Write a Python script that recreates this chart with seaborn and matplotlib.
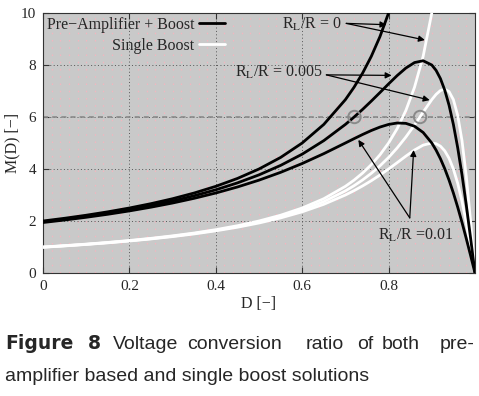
import numpy as np
import pandas as pd
import seaborn as sns
import matplotlib.pyplot as plt
from matplotlib.ticker import MultipleLocator

# Duty cycle samples and conversion ratio values
D = [0, 0.05, 0.1, 0.15, 0.2, 0.25, 0.3, 0.35, 0.4, 0.45, 0.5, 0.55, 0.6, 0.65,
     0.7, 0.72, 0.74, 0.76, 0.78, 0.8, 0.82, 0.84, 0.86, 0.88, 0.9, 0.91, 0.92,
     0.93, 0.94, 0.95, 0.96, 0.97, 0.98, 0.99, 1.0]

# ideal curves (R_L/R = 0), cut just above the top of the axes
pre_ideal = [2.000, 2.105, 2.222, 2.353, 2.500, 2.667, 2.857, 3.077, 3.333, 3.636,
             4.000, 4.444, 5.000, 5.714, 6.667, 7.143, 7.692, 8.333, 9.091, 10.000,
             11.111]
single_ideal = [1.000, 1.053, 1.111, 1.176, 1.250, 1.333, 1.429, 1.538, 1.667, 1.818,
                2.000, 2.222, 2.500, 2.857, 3.333, 3.571, 3.846, 4.167, 4.545, 5.000,
                5.556, 6.250, 7.143, 8.333, 10.000, 11.111]

# R_L/R = 0.005
pre_005 = [1.970, 2.071, 2.182, 2.305, 2.443, 2.597, 2.772, 2.971, 3.200, 3.465,
           3.774, 4.138, 4.571, 5.091, 5.714, 5.996, 6.295, 6.612, 6.940, 7.273,
           7.595, 7.882, 8.093, 8.163, 8.000, 7.792, 7.477, 7.035, 6.452, 5.714,
           4.819, 3.774, 2.597, 1.325, 0.0]
single_005 = [0.995, 1.047, 1.104, 1.168, 1.240, 1.322, 1.414, 1.521, 1.644, 1.789,
              1.961, 2.169, 2.424, 2.745, 3.158, 3.357, 3.581, 3.834, 4.120, 4.444,
              4.813, 5.229, 5.691, 6.186, 6.667, 6.870, 7.018, 7.071, 6.977, 6.667,
              6.061, 5.085, 3.704, 1.961, 0.0]

# R_L/R = 0.01
pre_01 = [1.942, 2.038, 2.143, 2.259, 2.388, 2.532, 2.692, 2.873, 3.077, 3.308,
          3.571, 3.871, 4.211, 4.590, 5.000, 5.166, 5.328, 5.480, 5.612, 5.714,
          5.769, 5.755, 5.645, 5.405, 5.000, 4.724, 4.396, 4.012, 3.571, 3.077,
          2.532, 1.942, 1.316, 0.665, 0.0]
single_01 = [0.990, 1.041, 1.098, 1.160, 1.231, 1.310, 1.400, 1.503, 1.622, 1.760,
             1.923, 2.118, 2.353, 2.642, 3.000, 3.167, 3.351, 3.550, 3.767, 4.000,
             4.245, 4.494, 4.730, 4.918, 5.000, 4.972, 4.878, 4.698, 4.412, 4.000,
             3.448, 2.752, 1.923, 0.990, 0.0]

# operating points marked with circles at M = 6
op_D = [0.721, 0.873]
op_M = [6, 6]

sns.set_style("ticks")
plt.rcParams['font.family'] = ['Liberation Serif', 'DejaVu Serif']
plt.rcParams['mathtext.fontset'] = 'stix'

fig = plt.figure(figsize=(4.79, 3.96), dpi=100)
ax = fig.add_axes([0.0898, 0.3106, 0.9018, 0.6566])
ax.set_facecolor('#c9c9c9')

# dot texture and grid
ax.xaxis.set_minor_locator(MultipleLocator(0.02))
ax.grid(which='minor', axis='x', color='#f2b6bf', linestyle=(0, (1.2, 4.6)), linewidth=0.9)
ax.grid(which='major', color='#555555', linestyle=(0, (1, 2.5)), linewidth=0.7)

ax.axhline(6, color='#8a8a8a', linestyle=(0, (3, 2.5)), linewidth=1.2, zorder=2)

lw = 2.0
sns.lineplot(x=D[:len(pre_ideal)], y=pre_ideal, color='black', lw=lw, ax=ax,
             label='Pre\u2212Amplifier + Boost', zorder=4)
sns.lineplot(x=D, y=pre_005, color='black', lw=lw, ax=ax, zorder=4)
sns.lineplot(x=D, y=pre_01, color='black', lw=lw, ax=ax, zorder=4)
sns.lineplot(x=D[:len(single_ideal)], y=single_ideal, color='white', lw=lw, ax=ax,
             label='Single Boost', zorder=3)
sns.lineplot(x=D, y=single_005, color='white', lw=lw, ax=ax, zorder=3)
sns.lineplot(x=D, y=single_01, color='white', lw=lw, ax=ax, zorder=3)

ax.scatter(op_D, op_M, s=80, facecolors='none', edgecolors='#8a8a8a', linewidths=1.4, zorder=5)

# annotations
arrow = dict(arrowstyle='-|>', color='black', lw=0.9, mutation_scale=9, shrinkA=0, shrinkB=0)
ax.text(0.623, 9.55, r'R$_\mathrm{L}$/R = 0', ha='center', va='center', fontsize=11.5)
ax.annotate('', xy=(0.795, 9.55), xytext=(0.702, 9.6), arrowprops=arrow)
ax.annotate('', xy=(0.884, 8.96), xytext=(0.702, 9.6), arrowprops=arrow)

ax.text(0.547, 7.7, r'R$_\mathrm{L}$/R = 0.005', ha='center', va='center', fontsize=11.5)
ax.annotate('', xy=(0.807, 7.6), xytext=(0.656, 7.62), arrowprops=arrow)
ax.annotate('', xy=(0.895, 6.65), xytext=(0.656, 7.62), arrowprops=arrow)

ax.text(0.862, 1.45, r'R$_\mathrm{L}$/R =0.01', ha='center', va='center', fontsize=11.5)
ax.annotate('', xy=(0.730, 5.12), xytext=(0.849, 2.12), arrowprops=arrow)
ax.annotate('', xy=(0.858, 4.73), xytext=(0.849, 2.12), arrowprops=arrow)

ax.set_xlim(0, 1)
ax.set_ylim(0, 10)
ax.set_xticks([0, 0.2, 0.4, 0.6, 0.8])
ax.set_xticklabels(['0', '0.2', '0.4', '0.6', '0.8'])
ax.set_yticks([0, 2, 4, 6, 8, 10])
ax.tick_params(which='major', direction='in', top=True, right=True, length=4,
               labelsize=11, color='#333333', pad=5)
ax.tick_params(which='minor', length=0)
for s in ax.spines.values():
    s.set_color('#333333')
    s.set_linewidth(0.8)
ax.set_xlabel('D [\u2212]', fontsize=11.5, labelpad=2)
ax.set_ylabel('M(D) [\u2212]', fontsize=11.5, labelpad=0)

leg = ax.legend(loc='upper left', frameon=False, markerfirst=False, fontsize=11.5,
                handlelength=1.6, borderaxespad=0.0, borderpad=0.25, labelspacing=0.3,
                handletextpad=0.3, bbox_to_anchor=(0.0, 1.0))
for t in leg.get_texts():
    t.set_ha('right')
leg.get_texts()[0].set_position((0, 0))

# caption, justified word by word on the first line
cap = {'family': ['Liberation Sans', 'DejaVu Sans'], 'size': 14}
capb = {'family': ['DejaVu Sans'], 'size': 13.5, 'fontweight': 'bold'}
fig.text(5 / 479, 1 - 349 / 396, 'Figure', **capb)
fig.text(88 / 479, 1 - 349 / 396, '8', **capb)
words = ['Voltage', 'conversion', 'ratio', 'of', 'both', 'pre-']
xs = [113, 187, 306, 357, 382, 440]
for w, x in zip(words, xs):
    fig.text(x / 479, 1 - 349 / 396, w, **cap)
fig.text(5 / 479, 1 - 381 / 396, 'amplifier based and single boost solutions', **cap)

fig.savefig('out.png', dpi=100)
